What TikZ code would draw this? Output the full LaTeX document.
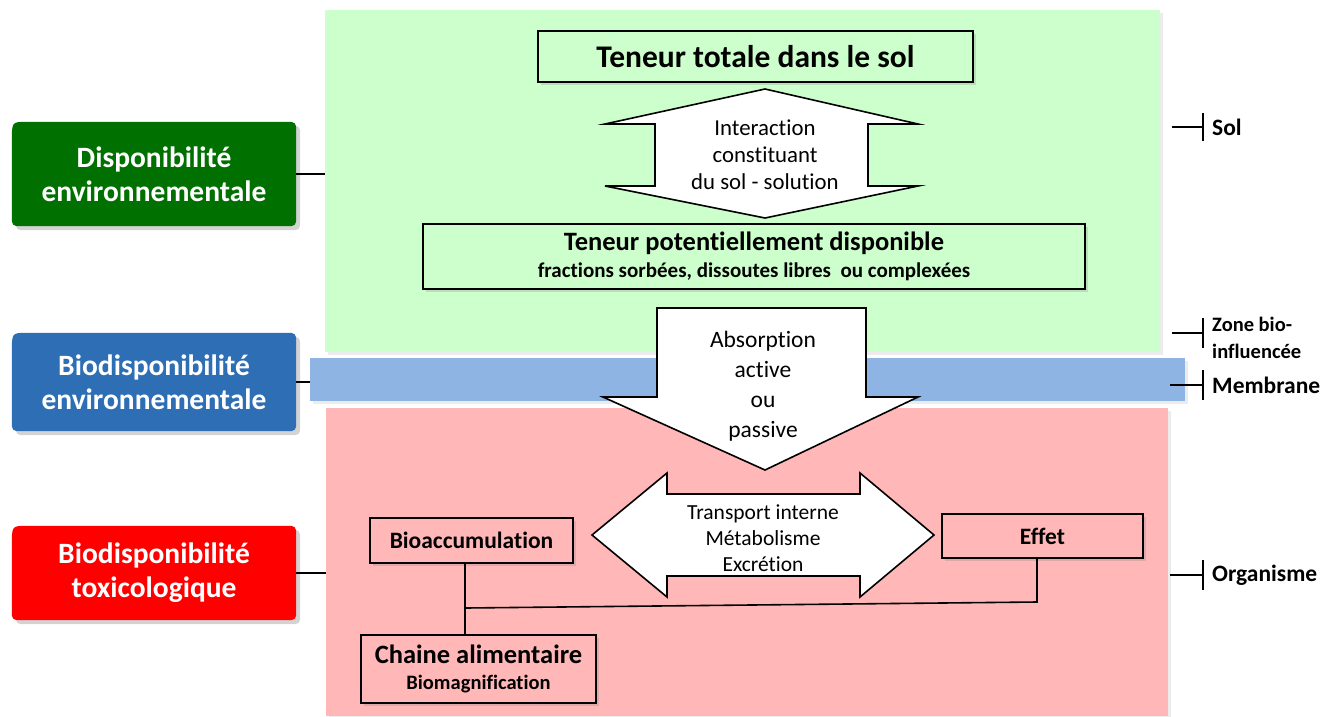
\documentclass[tikz,border=0pt]{standalone}
\usepackage{fontspec}
\setmainfont{Carlito}[Ligatures=NoCommon]
\usetikzlibrary{calc,positioning,shadows}

\definecolor{solgreen}{RGB}{205,255,205}
\definecolor{membblue}{RGB}{141,180,226}
\definecolor{orgpink}{RGB}{255,183,183}
\definecolor{dispogreen}{RGB}{0,112,0}
\definecolor{biodblue}{RGB}{46,110,181}
\definecolor{toxred}{RGB}{255,0,0}

\pgfdeclarelayer{background}
\pgfsetlayers{background,main}

\begin{document}
\begin{tikzpicture}
[x=1pt,y=-1pt]
\tikzset{
	panel/.style = {inner sep=0, outer sep=0, drop shadow={opacity=0.15, shadow xshift=3pt, shadow yshift=-3pt}},
	tab/.style = {minimum width=284, inner sep=0, text=white, align=center, font=\fontsize{29.5}{34}\selectfont\bfseries},
	tabfill/.style = {rounded corners=5, drop shadow={opacity=0.35, shadow xshift=4pt, shadow yshift=-4pt}},
	box/.style = {draw, line width=1.6, inner sep=0, align=center, font=\bfseries, drop shadow={opacity=0.25, shadow xshift=3pt, shadow yshift=-3pt}},
	blockarrow/.style = {draw, fill=white, line width=1.6, line join=miter},
	arrowtext/.style = {align=center, inner sep=0},
	side/.style = {anchor=west, inner sep=0, align=left, font=\fontsize{23.5}{27}\selectfont\bfseries},
	link/.style = {line width=1.6}
}

\useasboundingbox (0,0) rectangle (1341,716);

% les trois milieux
\begin{pgfonlayer}{background}
\node (sol) [panel, fill=solgreen, minimum width=835, minimum height=342] at (742.5,181) {};
\node (membrane) [panel, fill=membblue, minimum width=875, minimum height=43] at (747.5,379.5) {};
\node (organisme) [panel, fill=orgpink, minimum width=842, minimum height=308] at (747,562) {};
\end{pgfonlayer}

% etiquettes de gauche
\node (dispo) [tab, minimum height=104] at (154,174) {Disponibilité\\environnementale};
\node (biodispo) [tab, minimum height=98] at (154,382) {Biodisponibilité\\environnementale};
\node (toxico) [tab, minimum height=94] at (154,573) {Biodisponibilité\\toxicologique};

% fleches
\draw [blockarrow] (765,89) -- (918,124) -- (868,124) -- (868,186) -- (918,186) -- (765,218)
	-- (605,186) -- (655,186) -- (655,124) -- (605,124) -- cycle;
\node (interaction) [arrowtext, font=\fontsize{22.8}{27}\selectfont] at (765,155) {Interaction\\constituant\\du sol - solution};

\draw [blockarrow] (657,308) -- (866,308) -- (866,397) -- (918,397) -- (765,470) -- (603,397) -- (657,397) -- cycle;
\node (absorption) [arrowtext, font=\fontsize{23.5}{30}\selectfont] at (763,386) {Absorption\\active\\ou\\passive};

\draw [blockarrow] (592,535) -- (667,473) -- (667,494) -- (860,494) -- (860,473) -- (934,535)
	-- (860,597) -- (860,576) -- (667,576) -- (667,597) -- cycle;
\node (transport) [arrowtext, font=\fontsize{21.5}{26}\selectfont] at (763,538) {Transport interne\\Métabolisme\\Excrétion};

% boites
\node (totale) [box, fill=solgreen, minimum width=435, minimum height=51, font=\fontsize{31.5}{34}\selectfont\bfseries] at (755.5,56.5) {Teneur totale dans le sol};
\node (potentiel) [box, fill=solgreen, minimum width=662, minimum height=65, font=\fontsize{26.5}{27}\selectfont\bfseries] at (754,256.5)
	{Teneur potentiellement disponible\\\fontsize{21}{27}\selectfont fractions sorbées, dissoutes libres~~ou complexées};
\node (bioacc) [box, fill=orgpink, minimum width=203, minimum height=45, font=\fontsize{23.5}{26}\selectfont\bfseries] at (471.5,540.5) {Bioaccumulation};
\node (effet) [box, fill=orgpink, minimum width=201, minimum height=44, font=\fontsize{23.5}{26}\selectfont\bfseries] at (1042.5,536) {Effet};
\node (chaine) [box, fill=orgpink, minimum width=235, minimum height=68, font=\fontsize{26.5}{26}\selectfont\bfseries] at (478.5,669)
	{Chaine alimentaire\\\fontsize{20.5}{26}\selectfont Biomagnification};

% liaisons
\coordinate (junction) at (465,608);
\coordinate (effetfoot) at (1037,602);
\draw [link] (bioacc.south -| junction) -- (chaine.north -| junction);
\draw [link] (junction) -- (effetfoot) -- (effet.south -| effetfoot);

\draw [link] (dispo.east) -- (dispo.east -| sol.west);
\draw [link] (biodispo.east) -- (biodispo.east -| membrane.west);
\draw [link] (toxico.east) -- (toxico.east -| organisme.west);

% reperes de droite
\coordinate (solmark) at (1203,127);
\coordinate (zonemark) at (1203,333);
\coordinate (membmark) at (1203,385);
\coordinate (orgmark) at (1203,575);

\node (sollab) [side, right=9pt of solmark] {Sol};
\node (zonelab) [side, right=9pt of zonemark, yshift=-5pt, font=\fontsize{20.5}{27}\selectfont\bfseries] {Zone bio-\\influencée};
\node (memblab) [side, right=9pt of membmark] {Membrane};
\node (orglab) [side, right=9pt of orgmark] {Organisme};

\draw [link] ([xshift=12]sol.east |- solmark) -- (solmark);
\draw [link] ([yshift=14]solmark) -- ([yshift=-14]solmark);
\draw [link] ([xshift=12]sol.east |- zonemark) -- (zonemark);
\draw [link] ([yshift=15]zonemark) -- ([yshift=-15]zonemark);
\draw [link] ([xshift=-15]membrane.east |- membmark) -- (membmark);
\draw [link] ([yshift=15]membmark) -- ([yshift=-15]membmark);
\draw [link] ([xshift=2]organisme.east |- orgmark) -- (orgmark);
\draw [link] ([yshift=15]orgmark) -- ([yshift=-15]orgmark);

% fonds des etiquettes
\begin{pgfonlayer}{background}
\fill [dispogreen, tabfill] ($(dispo.north west)+(0,20)$) -- (dispo.south west) -- (dispo.south east)
	-- (dispo.north east) -- ($(dispo.north west)+(20,0)$) [sharp corners] .. controls (dispo.north west) .. ($(dispo.north west)+(0,20)$) -- cycle;
\fill [biodblue, tabfill] ($(biodispo.north west)+(0,20)$) -- (biodispo.south west) -- (biodispo.south east)
	-- (biodispo.north east) -- ($(biodispo.north west)+(20,0)$) [sharp corners] .. controls (biodispo.north west) .. ($(biodispo.north west)+(0,20)$) -- cycle;
\fill [toxred, tabfill] ($(toxico.north west)+(0,20)$) -- (toxico.south west) -- (toxico.south east)
	-- (toxico.north east) -- ($(toxico.north west)+(20,0)$) [sharp corners] .. controls (toxico.north west) .. ($(toxico.north west)+(0,20)$) -- cycle;
\end{pgfonlayer}

\end{tikzpicture}
\end{document}
